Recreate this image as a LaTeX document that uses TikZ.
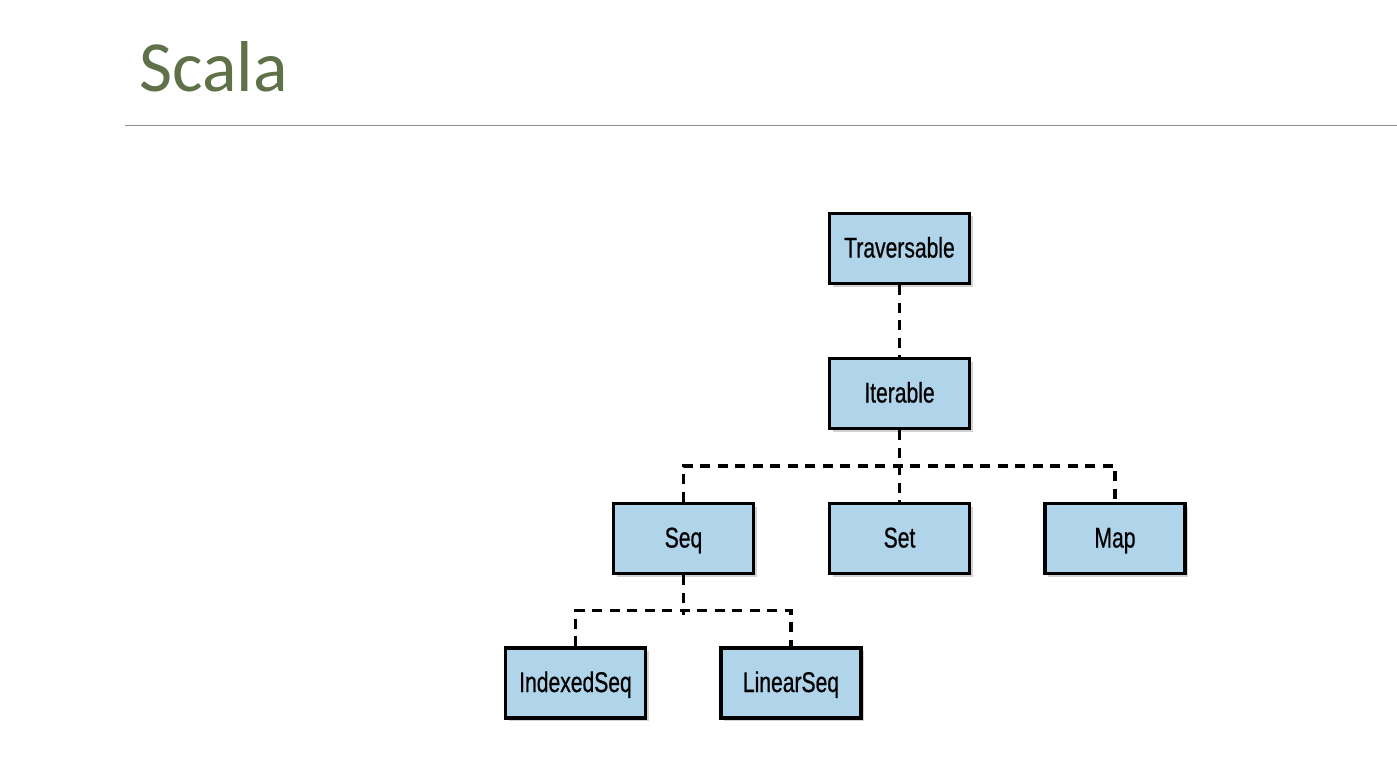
\documentclass[tikz,border=0pt]{standalone}
\usepackage{fontspec}
\setmainfont{Carlito}
\newfontfamily\boxfont[FakeStretch=0.74,FakeBold=0.6]{Liberation Sans}
\usetikzlibrary{shadows,calc}
\definecolor{titlegreen}{RGB}{94,113,72}
\definecolor{boxblue}{RGB}{176,212,234}
\definecolor{rulegray}{RGB}{140,140,140}
\begin{document}
\begin{tikzpicture}[x=1pt,y=-1pt,
  cls/.style={draw=black, line width=3.4pt, fill=boxblue,
    minimum width=140pt, minimum height=70pt, inner sep=0pt,
    text height=22pt, text depth=4pt,
    font=\boxfont\fontsize{28.5}{30}\selectfont,
    drop shadow={shadow xshift=3pt, shadow yshift=-3pt, opacity=0.35}},
  conn/.style={line width=3.4pt, dash pattern=on 10pt off 7.5pt}]
% page
\path[use as bounding box, fill=white] (0,0) rectangle (1397,762);

% title and rule
\node[anchor=base west, text=titlegreen, font=\fontsize{72}{80}\selectfont, inner sep=0pt] (title) at (139,92) {Scala};
\coordinate (ruleL) at (125,126);
\coordinate (ruleR) at (1397,126);
\draw[rulegray, line width=1pt] (ruleL) -- (ruleR);

% collection hierarchy
\node[cls] (trav) at (899.5,248.5) {Traversable};
\node[cls] (iter) at (899.5,393.5) {Iterable};
\node[cls] (seq)  at (683.5,538.5) {Seq};
\node[cls] (set)  at (899.5,538.5) {Set};
\node[cls] (map)  at (1115,538.5)  {Map};
\node[cls] (idx)  at (575.5,683)   {IndexedSeq};
\node[cls] (lin)  at (791,683)     {LinearSeq};

% bus lines
\coordinate (bus1) at ($(iter.south)!0.5!(set.north)$);
\coordinate (bus2) at ($(seq.south)!0.5!(seq.south |- idx.north)$);

\draw[conn] (trav.south) -- (iter.north);
\draw[conn] (iter.south) -- (set.north);
\draw[conn] (seq.north) |- (bus1) -| (map.north);
\draw[conn] (seq.south) -- ($(bus2)+(0,4)$);
\draw[conn] (idx.north) |- (bus2) -| (lin.north);
\end{tikzpicture}
\end{document}
